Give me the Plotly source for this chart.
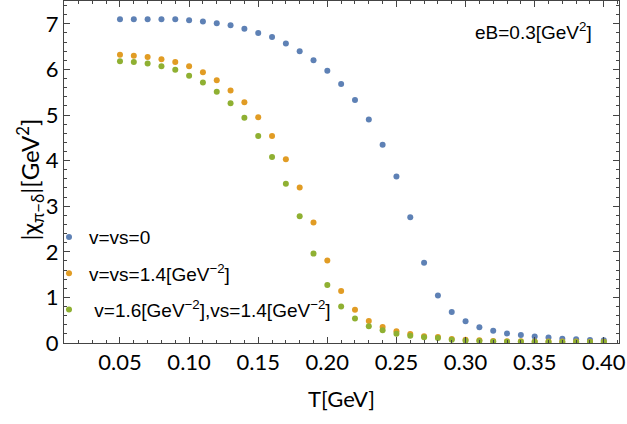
import plotly.graph_objects as go

# Temperature grid [GeV]
T = [0.05, 0.06, 0.07, 0.08, 0.09, 0.10, 0.11, 0.12, 0.13, 0.14, 0.15, 0.16,
     0.17, 0.18, 0.19, 0.20, 0.21, 0.22, 0.23, 0.24, 0.25, 0.26, 0.27, 0.28,
     0.29, 0.30, 0.31, 0.32, 0.33, 0.34, 0.35, 0.36, 0.37, 0.38, 0.39, 0.40]

# |chi_{pi-delta}| [GeV^2] for the three coupling choices
chi_v0 = [7.10, 7.10, 7.10, 7.10, 7.10, 7.08, 7.05, 7.01, 6.97, 6.89, 6.80, 6.71,
          6.57, 6.40, 6.20, 5.97, 5.68, 5.33, 4.90, 4.35, 3.65, 2.76, 1.76, 1.04,
          0.68, 0.475, 0.345, 0.27, 0.21, 0.175, 0.14, 0.12, 0.095, 0.08, 0.065, 0.06]
chi_v14 = [6.32, 6.30, 6.27, 6.22, 6.16, 6.07, 5.94, 5.76, 5.54, 5.28, 4.95, 4.54,
           4.03, 3.41, 2.64, 1.81, 1.14, 0.73, 0.48, 0.35, 0.255, 0.20, 0.15, 0.13,
           0.09, 0.07, 0.06, 0.045, 0.04, 0.037, 0.035, 0.033, 0.032, 0.031, 0.03, 0.03]
chi_v16 = [6.18, 6.16, 6.13, 6.07, 5.99, 5.86, 5.71, 5.51, 5.26, 4.94, 4.54, 4.08,
           3.49, 2.78, 1.96, 1.27, 0.80, 0.54, 0.365, 0.28, 0.205, 0.16, 0.125, 0.11,
           0.07, 0.05, 0.045, 0.035, 0.03, 0.027, 0.025, 0.024, 0.023, 0.022, 0.021, 0.02]

series_names = [
    "v=vs=0",
    "v=vs=1.4[GeV<sup>−2</sup>]",
    " v=1.6[GeV<sup>−2</sup>],vs=1.4[GeV<sup>−2</sup>]",
]
series_values = [chi_v0, chi_v14, chi_v16]
series_colors = ["#5E81B5", "#E19C24", "#8FB032"]

x_ticks = [0.05, 0.10, 0.15, 0.20, 0.25, 0.30, 0.35, 0.40]
y_ticks = [0, 1, 2, 3, 4, 5, 6, 7]

fig = go.Figure()
for i, (name, vals, col) in enumerate(zip(series_names, series_values, series_colors)):
    fig.add_trace(go.Scatter(
        x=T, y=vals, mode="markers", name=name,
        legendgroup=f"g{i}",
        marker=dict(color=col, size=6, line=dict(width=0)),
    ))

tick_font = dict(family="Lato", size=22, color="black")
axis_common = dict(
    showline=True, linecolor="#444", linewidth=1, mirror="allticks",
    ticks="inside", ticklen=6, tickcolor="#444", tickwidth=1,
    showgrid=False, zeroline=False, tickfont=tick_font,
)

fig.update_xaxes(
    range=[0.0095, 0.411], tickvals=x_ticks,
    ticktext=[f"{v:.2f}" for v in x_ticks],
    minor=dict(ticks="inside", ticklen=3, dtick=0.01, tick0=0.0, tickcolor="#444"),
    title=dict(text="T[GeV]", font=dict(family="Lato", size=22, color="black"), standoff=17),
    **axis_common,
)
fig.update_yaxes(
    range=[0, 7.5], tickvals=y_ticks,
    minor=dict(ticks="inside", ticklen=3, dtick=0.2, tick0=0, tickcolor="#444"),
    **axis_common,
)

# Vertical axis label, placed a little below the plot's mid-height
fig.add_annotation(
    text="|χ<sub>π−δ</sub>|[GeV<sup>2</sup>]", xref="paper", yref="paper",
    x=-0.062, y=0.477, xanchor="center", yanchor="middle", showarrow=False,
    textangle=-90, font=dict(family="Lato", size=24, color="black"),
)

fig.add_annotation(
    text="eB=0.3[GeV<sup>2</sup>]", xref="paper", yref="paper",
    x=0.955, y=0.912, xanchor="right", yanchor="middle", showarrow=False,
    font=dict(family="Liberation Sans", size=19, color="black"),
)

fig.update_layout(
    width=627, height=424,
    margin=dict(l=64, r=8, t=1, b=81),
    paper_bgcolor="white", plot_bgcolor="white",
    showlegend=True,
    legend=dict(
        x=-0.027, y=0.365, xanchor="left", yanchor="top",
        bgcolor="rgba(0,0,0,0)", traceorder="grouped", tracegroupgap=8.5,
        font=dict(family="Liberation Sans", size=19, color="black"),
        itemsizing="trace",
    ),
)

fig.write_html("out.html")
